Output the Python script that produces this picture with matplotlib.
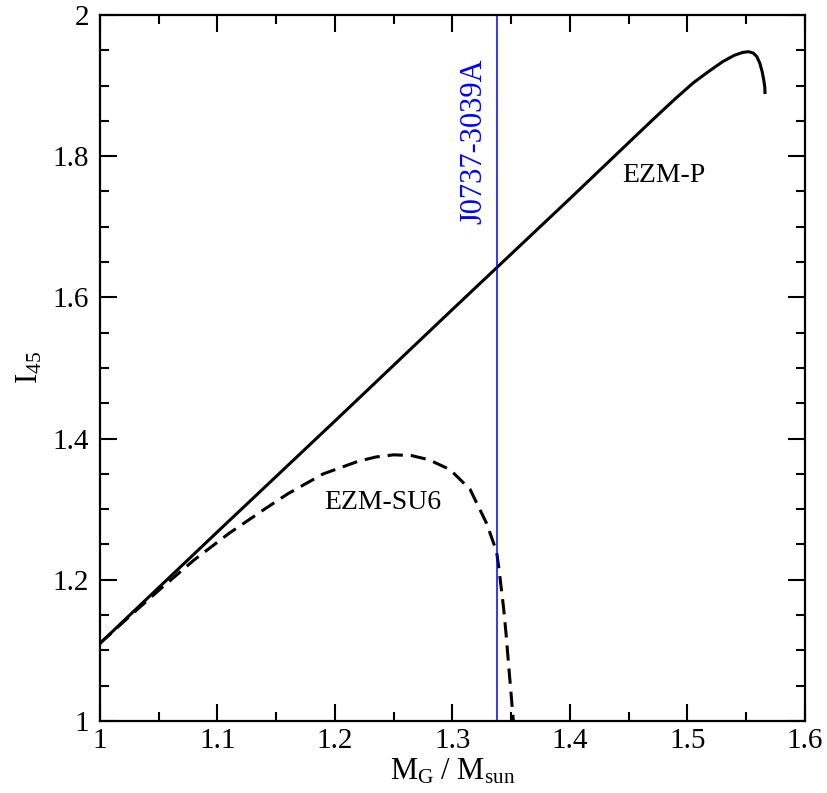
import matplotlib
matplotlib.use("Agg")
import matplotlib.pyplot as plt
from matplotlib.ticker import MultipleLocator, FuncFormatter

plt.rcParams['font.family'] = ['Liberation Serif', 'DejaVu Serif']
plt.rcParams['mathtext.fontset'] = 'custom'
plt.rcParams['mathtext.rm'] = 'Liberation Serif'
plt.rcParams['mathtext.it'] = 'Liberation Serif:italic'

# EZM-P curve (solid)
mass_p = [1.0, 1.1, 1.2, 1.3, 1.4, 1.47, 1.49, 1.505, 1.518, 1.53, 1.54,
          1.547, 1.552, 1.556, 1.559, 1.5615, 1.5635, 1.565, 1.5658, 1.566]
inertia_p = [1.110, 1.268, 1.425, 1.583, 1.740, 1.851, 1.882, 1.904, 1.920,
             1.934, 1.943, 1.947, 1.948, 1.946, 1.941, 1.932, 1.920, 1.907,
             1.897, 1.888]

# EZM-SU6 curve (dashed)
mass_su6 = [1.0, 1.025, 1.05, 1.08, 1.11, 1.14, 1.16, 1.19, 1.22, 1.235,
            1.25, 1.265, 1.28, 1.298, 1.315, 1.329, 1.3375, 1.3395, 1.341,
            1.3435, 1.3455, 1.3485, 1.3518]
inertia_su6 = [1.110, 1.148, 1.185, 1.228, 1.266, 1.300, 1.322, 1.350, 1.368,
               1.374, 1.377, 1.376, 1.370, 1.356, 1.328, 1.280, 1.240, 1.216,
               1.195, 1.160, 1.125, 1.065, 1.0]

# pulsar mass marker
psr_name = "J0737-3039A"
psr_mass = 1.338

fig = plt.figure(figsize=(8.27, 7.93), dpi=100)
ax = fig.add_axes([0.1209, 0.0908, 0.8525, 0.8903])

ax.plot(mass_p, inertia_p, color="black", lw=2.2, solid_capstyle="butt",
        solid_joinstyle="round")
ax.plot(mass_su6, inertia_su6, color="black", lw=2.2, linestyle=(0, (5, 2.6)))
ax.axvline(psr_mass, color="blue", lw=1.1)

ax.text(1.48, 1.772, "EZM-P", fontsize=20, ha="center", va="center")
ax.text(1.241, 1.3095, "EZM-SU6", fontsize=20, ha="center", va="center")
ax.text(1.318, 1.821, psr_name, fontsize=22, color="blue", rotation=90,
        ha="center", va="center")

ax.set_xlim(1.0, 1.6)
ax.set_ylim(1.0, 2.0)
ax.xaxis.set_major_locator(MultipleLocator(0.1))
ax.xaxis.set_minor_locator(MultipleLocator(0.05))
ax.yaxis.set_major_locator(MultipleLocator(0.2))
ax.yaxis.set_minor_locator(MultipleLocator(0.05))
fmt = FuncFormatter(lambda v, p: "%g" % round(v, 3))
ax.xaxis.set_major_formatter(fmt)
ax.yaxis.set_major_formatter(fmt)

ax.tick_params(which="both", direction="in", top=True, right=True, width=1.5)
ax.tick_params(which="major", length=12, labelsize=21)
ax.tick_params(axis="x", which="major", pad=5)
ax.tick_params(axis="y", which="major", pad=8)
ax.tick_params(which="minor", length=6.5)
for s in ax.spines.values():
    s.set_linewidth(1.6)

ax.set_xlabel(r"$\mathrm{M_G\ /\ M_{sun}}$", fontsize=22, labelpad=2)
ax.set_ylabel(r"$\mathrm{I_{45}}$", fontsize=22, labelpad=6)

fig.savefig("out.png", dpi=100)
